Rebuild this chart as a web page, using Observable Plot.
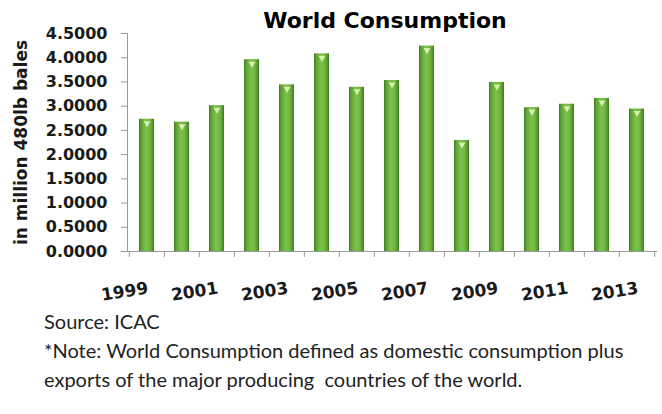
<!DOCTYPE html>
<html>
<head>
<meta charset="utf-8">
<script src="https://cdn.jsdelivr.net/npm/d3@7"></script>
<script src="https://cdn.jsdelivr.net/npm/@observablehq/plot@0.6"></script>
<style>
  body { margin: 0; background: #fff; }
  #wrap { position: relative; width: 662px; height: 414px; overflow: hidden; background: #fff; }
  #title { position: absolute; left: 108px; width: 554px; top: 8px; text-align: center;
           font-family: "DejaVu Sans", sans-serif; font-weight: bold; font-size: 22px; line-height: 26px; color: #000; }
  #chart { position: absolute; left: 0; top: 0; }
  #foot { position: absolute; left: 44px; top: 307px; font-family: Lato, "Open Sans", sans-serif;
          font-size: 20px; line-height: 29px; color: #222; }
</style>
</head>
<body>
<div id="wrap">
  <div id="chart"></div>
  <div id="title"></div>
  <div id="foot"></div>
</div>
<script>
const titleText = "World Consumption";
const yLabel = "in million 480lb bales";
const years = [1999, 2000, 2001, 2002, 2003, 2004, 2005, 2006, 2007, 2008, 2009, 2010, 2011, 2012, 2013];
const consumption = [2.73, 2.67, 3.01, 3.96, 3.44, 4.08, 3.39, 3.53, 4.24, 2.29, 3.49, 2.97, 3.04, 3.16, 2.94];
const xTickLabels = [1999, 2001, 2003, 2005, 2007, 2009, 2011, 2013];
const yTicks = [0, 0.5, 1, 1.5, 2, 2.5, 3, 3.5, 4, 4.5];
const footLines = [
  "Source: ICAC",
  "*Note: World Consumption defined as domestic consumption plus",
  "exports of the major producing\u00a0 countries of the world."
];

const data = years.map((y, i) => ({year: y, value: consumption[i]}));

const W = 662, H = 310, mL = 127, mR = 5, mT = 33, mB = 59;
const step = (W - mL - mR) / years.length;
const pInner = 0.57;

const svg = Plot.plot({
  width: W, height: H,
  marginLeft: mL, marginRight: mR, marginTop: mT, marginBottom: mB,
  style: {fontFamily: "DejaVu Sans, sans-serif", fontSize: "16px", fontWeight: "bold", color: "#1a1a1a", background: "#fff"},
  x: {type: "band", domain: years, paddingInner: pInner, paddingOuter: pInner / 2, label: null},
  y: {domain: [0, 4.5], label: null},
  marks: [
    Plot.barY(data, {x: "year", y: "value", fill: "url(#barGrad)"}),
    Plot.dot(data, {x: "year", y: "value", symbol: "triangle", rotate: 180, r: 2.6, dy: 4, fill: "#d6efb0", stroke: null}),
    Plot.ruleY([0], {stroke: "#999"}),
    Plot.frame({anchor: "left", stroke: "#999"}),
    Plot.ruleX(years, {x: d => d, y1: 0, y2: 0, insetBottom: -6, dx: -step / 2, stroke: "#999"}),
    Plot.ruleX([years[years.length - 1]], {x: d => d, y1: 0, y2: 0, insetBottom: -6, dx: step / 2, stroke: "#999"}),
    Plot.axisY({ticks: yTicks, tickFormat: d3.format(".4f"), tickSize: 6, tickPadding: 14, stroke: "#999", fontSize: 16, label: null}),
    Plot.axisX({ticks: xTickLabels, tickFormat: d => String(d), tickSize: 0, tickPadding: 30, tickRotate: -9, textAnchor: "end", fontSize: 17, label: null}),
    Plot.text([yLabel], {text: d => d, frameAnchor: "left", textAnchor: "middle", rotate: -90, dx: -106, fontSize: 17, fill: "#1a1a1a"})
  ]
});

const defs = d3.select(svg).insert("defs", ":first-child");
const grad = defs.append("linearGradient").attr("id", "barGrad")
  .attr("x1", "0").attr("x2", "1").attr("y1", "0").attr("y2", "0");
[["0%", "#3f7a22"], ["14%", "#5fa236"], ["45%", "#7cc24a"], ["70%", "#72b842"], ["88%", "#5a9a32"], ["100%", "#3c7420"]]
  .forEach(([o, c]) => grad.append("stop").attr("offset", o).attr("stop-color", c));

document.getElementById("chart").appendChild(svg);
document.getElementById("title").textContent = titleText;
const foot = document.getElementById("foot");
footLines.forEach(t => { const d = document.createElement("div"); d.textContent = t; foot.appendChild(d); });
</script>
</body>
</html>
